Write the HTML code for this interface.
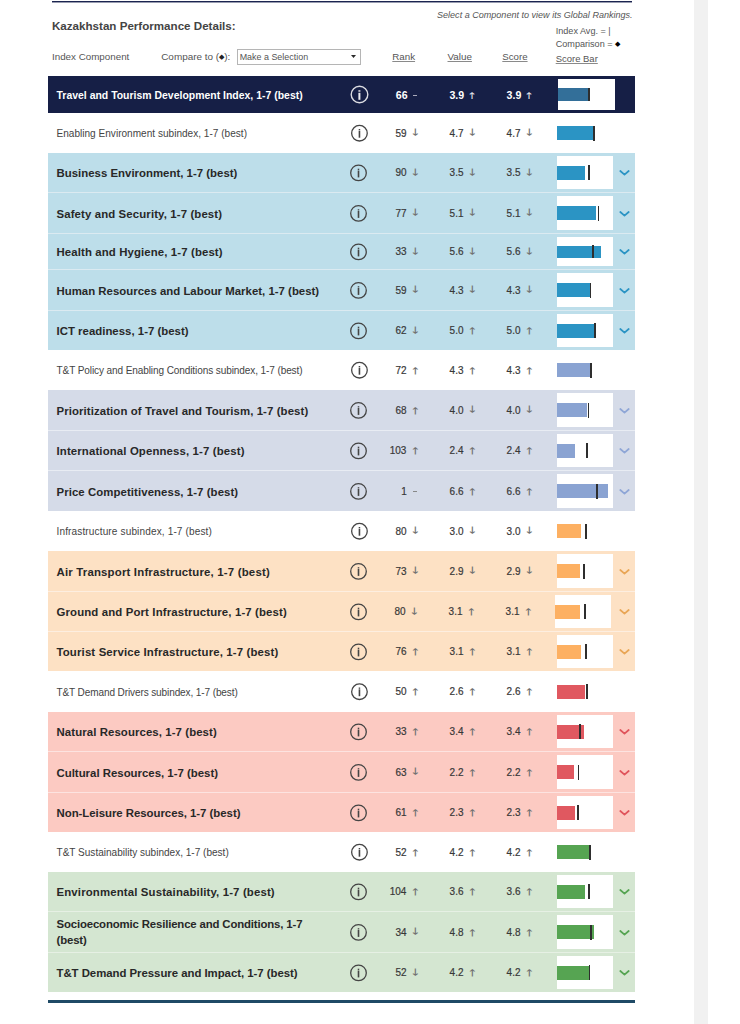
<!DOCTYPE html>
<html><head><meta charset="utf-8"><title>Kazakhstan Performance Details</title>
<style>
*{margin:0;padding:0;box-sizing:border-box}
html,body{width:740px;height:1024px;overflow:hidden;background:#fff}
body{position:relative;font-family:"Liberation Sans", Arial, sans-serif;color:#333}
.a{position:absolute}
.t{position:absolute;white-space:nowrap}
.row{position:absolute;left:48px;width:587px}
.lbl{position:absolute;left:8.5px;top:0;bottom:0;display:flex;align-items:center;white-space:nowrap}
.num{position:absolute;white-space:nowrap;font-size:10.4px;line-height:12px;font-weight:normal;color:#383838;-webkit-text-stroke:0.2px #383838;transform:scaleX(0.96);transform-origin:100% 50%}
.nh{font-size:10.6px;line-height:12px;font-weight:bold;color:#fff;-webkit-text-stroke:0;transform:none}
.arr{position:absolute;width:6px;text-align:center;font-family:"Noto Sans CJK JP","DejaVu Sans",sans-serif;font-weight:bold;font-size:8px;line-height:9px;color:#727272;transform:scaleX(1.4)}
.dash{position:absolute;width:4px;height:1.2px;background:#888}
.info{position:absolute;width:17px;height:17px}
.box{position:absolute;background:#fff}
.bar{position:absolute}
.tick{position:absolute;width:1.8px;background:#2e2e2e}
.chev{position:absolute;width:11px;height:7px}
u{text-decoration:underline;text-underline-offset:0.5px;text-decoration-color:#8a8a8a;text-decoration-thickness:1.2px}
</style></head><body>

<div class="a" style="left:52px;top:1px;width:579.5px;height:1px;background:#1b2450"></div>
<div class="a" style="left:52px;top:2px;width:579.5px;height:1px;background:#1b2450;opacity:0.45"></div>
<div class="a" style="left:694.2px;top:0;width:13.4px;height:1024px;background:#f1f1f1"></div>
<div class="t" style="left:52px;top:19px;font-size:11.6px;font-weight:bold;color:#444">Kazakhstan Performance Details:</div>
<div class="t" style="left:437px;top:10.1px;font-size:9.06px;font-style:italic;color:#555">Select a Component to view its Global Rankings.</div>
<div class="t" style="left:555.7px;top:25.4px;font-size:9.1px;color:#555;line-height:12.4px">Index Avg. = |<br>Comparison = <span style="font-size:7px;color:#000;position:relative;top:-0.5px">◆</span></div>
<div class="t" style="left:52px;top:51px;font-size:9.8px;color:#555">Index Component</div>
<div class="t" style="left:161.2px;top:51px;font-size:9.95px;color:#555">Compare to (<span style="font-size:6.5px;color:#222;position:relative;top:-1px">◆</span>):</div>
<div class="a" style="left:236.5px;top:49px;width:124.5px;height:15.5px;border:1px solid #b5b5b5;background:#fff"></div>
<div class="t" style="left:239.7px;top:52px;font-size:8.94px;color:#555">Make a Selection</div>
<svg class="a" style="left:350px;top:54px" width="7" height="5" viewBox="0 0 7 5"><polygon points="1,1 6,1 3.5,4" fill="#2a2a2a"/></svg>
<div class="t" style="left:392.3px;top:51px;font-size:9.76px;color:#555"><u>Rank</u></div>
<div class="t" style="left:447.5px;top:51px;font-size:9.86px;color:#555"><u>Value</u></div>
<div class="t" style="left:502.3px;top:51px;font-size:9.68px;color:#555"><u>Score</u></div>
<div class="t" style="left:555.7px;top:52.5px;font-size:9.47px;color:#555"><u>Score Bar</u></div>
<div class="row" style="top:76px;height:37px;background:#161f46">
<div class="lbl" style="font-size:10.45px;font-weight:bold;color:#fff;letter-spacing:0.009px;padding-top:2px"><span>Travel and Tourism Development Index, 1-7 (best)</span></div>
<div class="info" style="left:301.6px;top:9.4px;width:19px;height:19px"><svg width="19" height="19" viewBox="0 0 19 19"><circle cx="9.5" cy="9.5" r="8.3" fill="none" stroke="#dcdce2" stroke-width="1.4"/><rect x="8.4" y="5.1" width="2" height="1.7" fill="#c8c8d0"/><rect x="8.4" y="7.8" width="2" height="7" fill="#ececf0"/></svg></div>
<div class="num nh" style="right:227.4px;top:13.01px">66</div>
<div class="dash" style="left:365.2px;top:18.8px;background:#aab"></div>
<div class="num nh" style="right:170.8px;top:13.01px">3.9</div>
<div class="arr" style="left:420.1px;top:14.9px;color:#dcdce4;font-size:7.5px;">↑</div>
<div class="num nh" style="right:113.7px;top:13.01px">3.9</div>
<div class="arr" style="left:477.1px;top:14.9px;color:#dcdce4;font-size:7.5px;">↑</div>
<div class="box" style="left:509.6px;width:57.5px;top:2.8px;height:31.1px"></div>
<div class="bar" style="left:509.6px;width:30.7px;top:12.4px;height:12.2px;background:#336f99"></div>
<div class="tick" style="left:540.4px;top:11.9px;height:13.2px"></div>
</div>
<div class="row" style="top:113px;height:40px;background:#fff">
<div class="lbl" style="font-size:10.05px;font-weight:normal;color:#444;letter-spacing:0.015px;padding-top:1px"><span>Enabling Environment subindex, 1-7 (best)</span></div>
<div class="info" style="left:301px;top:10px;width:19px;height:19px"><svg width="19" height="19" viewBox="0 0 19 19"><circle cx="10.45" cy="10.20" r="7.8" fill="none" stroke="#444" stroke-width="1.3"/><rect x="9.70" y="6.00" width="1.5" height="1.3" fill="#444"/><rect x="9.65" y="7.80" width="1.6" height="6.9" fill="#444"/></svg></div>
<div class="num" style="right:228.4px;top:14.69px">59</div>
<div class="arr" style="left:362.9px;top:14.4px;">↓</div>
<div class="num" style="right:171.8px;top:14.69px">4.7</div>
<div class="arr" style="left:419.8px;top:14.4px;">↓</div>
<div class="num" style="right:114.7px;top:14.69px">4.7</div>
<div class="arr" style="left:476.8px;top:14.4px;">↓</div>
<div class="bar" style="left:509.0px;width:36.1px;top:13.0px;height:14px;background:#2b94c4"></div>
<div class="tick" style="left:545.0px;top:12.5px;height:15px"></div>
</div>
<div class="row" style="top:153px;height:39px;background:#bddeea">
<div class="lbl" style="font-size:11.4px;font-weight:bold;color:#282828;letter-spacing:0.016px;padding-top:1.5px"><span>Business Environment, 1-7 (best)</span></div>
<div class="info" style="left:301px;top:10px;width:19px;height:19px"><svg width="19" height="19" viewBox="0 0 19 19"><circle cx="9.50" cy="9.90" r="7.8" fill="none" stroke="#444" stroke-width="1.3"/><rect x="8.75" y="5.70" width="1.5" height="1.3" fill="#444"/><rect x="8.70" y="7.50" width="1.6" height="6.9" fill="#444"/></svg></div>
<div class="num" style="right:228.4px;top:14.19px">90</div>
<div class="arr" style="left:362.9px;top:13.9px;">↓</div>
<div class="num" style="right:171.8px;top:14.19px">3.5</div>
<div class="arr" style="left:419.8px;top:13.9px;">↓</div>
<div class="num" style="right:114.7px;top:14.19px">3.5</div>
<div class="arr" style="left:476.8px;top:13.9px;">↓</div>
<div class="box" style="left:509px;width:56.2px;top:3.2px;bottom:3.2px"></div>
<div class="bar" style="left:509.0px;width:27.9px;top:12.5px;height:14px;background:#2b94c4"></div>
<div class="tick" style="left:540.0px;top:12.0px;height:15px"></div>
<svg class="chev" style="left:571.0px;top:16.0px" viewBox="0 0 11 7"><polyline points="1.3,2 5.5,5.6 9.7,2" fill="none" stroke="#2b94c4" stroke-width="1.75" stroke-linecap="round" stroke-linejoin="round"/></svg>
</div>
<div class="row" style="top:193px;height:40px;background:#bddeea">
<div class="lbl" style="font-size:11.4px;font-weight:bold;color:#282828;letter-spacing:0.123px;padding-top:1.5px"><span>Safety and Security, 1-7 (best)</span></div>
<div class="info" style="left:301px;top:10px;width:19px;height:19px"><svg width="19" height="19" viewBox="0 0 19 19"><circle cx="9.50" cy="10.40" r="7.8" fill="none" stroke="#444" stroke-width="1.3"/><rect x="8.75" y="6.20" width="1.5" height="1.3" fill="#444"/><rect x="8.70" y="8.00" width="1.6" height="6.9" fill="#444"/></svg></div>
<div class="num" style="right:228.4px;top:14.69px">77</div>
<div class="arr" style="left:362.9px;top:14.4px;">↓</div>
<div class="num" style="right:171.8px;top:14.69px">5.1</div>
<div class="arr" style="left:419.8px;top:14.4px;">↓</div>
<div class="num" style="right:114.7px;top:14.69px">5.1</div>
<div class="arr" style="left:476.8px;top:14.4px;">↓</div>
<div class="box" style="left:509px;width:56.2px;top:3.2px;bottom:3.2px"></div>
<div class="bar" style="left:509.0px;width:39.0px;top:13.0px;height:14px;background:#2b94c4"></div>
<div class="tick" style="left:549.5px;top:12.5px;height:15px"></div>
<svg class="chev" style="left:571.0px;top:16.5px" viewBox="0 0 11 7"><polyline points="1.3,2 5.5,5.6 9.7,2" fill="none" stroke="#2b94c4" stroke-width="1.75" stroke-linecap="round" stroke-linejoin="round"/></svg>
</div>
<div class="a" style="left:48px;width:587px;top:192px;height:1.0px;background:#dbeaf1"></div>
<div class="row" style="top:234px;height:35px;background:#bddeea">
<div class="lbl" style="font-size:11.4px;font-weight:bold;color:#282828;letter-spacing:0.117px;padding-top:1.5px"><span>Health and Hygiene, 1-7 (best)</span></div>
<div class="info" style="left:301px;top:8px;width:19px;height:19px"><svg width="19" height="19" viewBox="0 0 19 19"><circle cx="9.50" cy="9.90" r="7.8" fill="none" stroke="#444" stroke-width="1.3"/><rect x="8.75" y="5.70" width="1.5" height="1.3" fill="#444"/><rect x="8.70" y="7.50" width="1.6" height="6.9" fill="#444"/></svg></div>
<div class="num" style="right:228.4px;top:12.19px">33</div>
<div class="arr" style="left:362.9px;top:11.9px;">↓</div>
<div class="num" style="right:171.8px;top:12.19px">5.6</div>
<div class="arr" style="left:419.8px;top:11.9px;">↓</div>
<div class="num" style="right:114.7px;top:12.19px">5.6</div>
<div class="arr" style="left:476.8px;top:11.9px;">↓</div>
<div class="box" style="left:509px;width:56.2px;top:3.2px;bottom:3.2px"></div>
<div class="bar" style="left:509.0px;width:43.6px;top:11.8px;height:12.2px;background:#2b94c4"></div>
<div class="tick" style="left:544.0px;top:11.3px;height:13.2px"></div>
<svg class="chev" style="left:571.0px;top:14.0px" viewBox="0 0 11 7"><polyline points="1.3,2 5.5,5.6 9.7,2" fill="none" stroke="#2b94c4" stroke-width="1.75" stroke-linecap="round" stroke-linejoin="round"/></svg>
</div>
<div class="a" style="left:48px;width:587px;top:233px;height:1.0px;background:#dbeaf1"></div>
<div class="row" style="top:270px;height:40px;background:#bddeea">
<div class="lbl" style="font-size:11.4px;font-weight:bold;color:#282828;letter-spacing:0.014px;padding-top:1.5px"><span>Human Resources and Labour Market, 1-7 (best)</span></div>
<div class="info" style="left:301px;top:10px;width:19px;height:19px"><svg width="19" height="19" viewBox="0 0 19 19"><circle cx="9.50" cy="10.40" r="7.8" fill="none" stroke="#444" stroke-width="1.3"/><rect x="8.75" y="6.20" width="1.5" height="1.3" fill="#444"/><rect x="8.70" y="8.00" width="1.6" height="6.9" fill="#444"/></svg></div>
<div class="num" style="right:228.4px;top:14.69px">59</div>
<div class="arr" style="left:362.9px;top:14.4px;">↓</div>
<div class="num" style="right:171.8px;top:14.69px">4.3</div>
<div class="arr" style="left:419.8px;top:14.4px;">↓</div>
<div class="num" style="right:114.7px;top:14.69px">4.3</div>
<div class="arr" style="left:476.8px;top:14.4px;">↓</div>
<div class="box" style="left:509px;width:56.2px;top:3.2px;bottom:3.2px"></div>
<div class="bar" style="left:509.0px;width:32.9px;top:13.0px;height:14px;background:#2b94c4"></div>
<div class="tick" style="left:541.5px;top:12.5px;height:15px"></div>
<svg class="chev" style="left:571.0px;top:16.5px" viewBox="0 0 11 7"><polyline points="1.3,2 5.5,5.6 9.7,2" fill="none" stroke="#2b94c4" stroke-width="1.75" stroke-linecap="round" stroke-linejoin="round"/></svg>
</div>
<div class="a" style="left:48px;width:587px;top:269px;height:1.0px;background:#dbeaf1"></div>
<div class="row" style="top:311px;height:39px;background:#bddeea">
<div class="lbl" style="font-size:11.4px;font-weight:bold;color:#282828;letter-spacing:0.017px;padding-top:1.5px"><span>ICT readiness, 1-7 (best)</span></div>
<div class="info" style="left:301px;top:10px;width:19px;height:19px"><svg width="19" height="19" viewBox="0 0 19 19"><circle cx="9.50" cy="9.90" r="7.8" fill="none" stroke="#444" stroke-width="1.3"/><rect x="8.75" y="5.70" width="1.5" height="1.3" fill="#444"/><rect x="8.70" y="7.50" width="1.6" height="6.9" fill="#444"/></svg></div>
<div class="num" style="right:228.4px;top:14.19px">62</div>
<div class="arr" style="left:362.9px;top:13.9px;">↓</div>
<div class="num" style="right:171.8px;top:14.19px">5.0</div>
<div class="arr" style="left:419.8px;top:15.3px;">↑</div>
<div class="num" style="right:114.7px;top:14.19px">5.0</div>
<div class="arr" style="left:476.8px;top:15.3px;">↑</div>
<div class="box" style="left:509px;width:56.2px;top:3.2px;bottom:3.2px"></div>
<div class="bar" style="left:509.0px;width:37.6px;top:12.5px;height:14px;background:#2b94c4"></div>
<div class="tick" style="left:546.3px;top:12.0px;height:15px"></div>
<svg class="chev" style="left:571.0px;top:16.0px" viewBox="0 0 11 7"><polyline points="1.3,2 5.5,5.6 9.7,2" fill="none" stroke="#2b94c4" stroke-width="1.75" stroke-linecap="round" stroke-linejoin="round"/></svg>
</div>
<div class="a" style="left:48px;width:587px;top:310px;height:1.0px;background:#dbeaf1"></div>
<div class="row" style="top:350px;height:40px;background:#fff">
<div class="lbl" style="font-size:10.05px;font-weight:normal;color:#444;letter-spacing:-0.104px;padding-top:1px"><span>T&amp;T Policy and Enabling Conditions subindex, 1-7 (best)</span></div>
<div class="info" style="left:301px;top:10px;width:19px;height:19px"><svg width="19" height="19" viewBox="0 0 19 19"><circle cx="10.45" cy="10.20" r="7.8" fill="none" stroke="#444" stroke-width="1.3"/><rect x="9.70" y="6.00" width="1.5" height="1.3" fill="#444"/><rect x="9.65" y="7.80" width="1.6" height="6.9" fill="#444"/></svg></div>
<div class="num" style="right:228.4px;top:14.69px">72</div>
<div class="arr" style="left:362.9px;top:15.8px;">↑</div>
<div class="num" style="right:171.8px;top:14.69px">4.3</div>
<div class="arr" style="left:419.8px;top:15.8px;">↑</div>
<div class="num" style="right:114.7px;top:14.69px">4.3</div>
<div class="arr" style="left:476.8px;top:15.8px;">↑</div>
<div class="bar" style="left:509.0px;width:33.7px;top:13.0px;height:14px;background:#8aa3d2"></div>
<div class="tick" style="left:542.3px;top:12.5px;height:15px"></div>
</div>
<div class="row" style="top:390px;height:40px;background:#d5dbe8">
<div class="lbl" style="font-size:11.4px;font-weight:bold;color:#282828;letter-spacing:0.094px;padding-top:1.5px"><span>Prioritization of Travel and Tourism, 1-7 (best)</span></div>
<div class="info" style="left:301px;top:10px;width:19px;height:19px"><svg width="19" height="19" viewBox="0 0 19 19"><circle cx="9.50" cy="10.40" r="7.8" fill="none" stroke="#444" stroke-width="1.3"/><rect x="8.75" y="6.20" width="1.5" height="1.3" fill="#444"/><rect x="8.70" y="8.00" width="1.6" height="6.9" fill="#444"/></svg></div>
<div class="num" style="right:228.4px;top:14.69px">68</div>
<div class="arr" style="left:362.9px;top:15.8px;">↑</div>
<div class="num" style="right:171.8px;top:14.69px">4.0</div>
<div class="arr" style="left:419.8px;top:14.4px;">↓</div>
<div class="num" style="right:114.7px;top:14.69px">4.0</div>
<div class="arr" style="left:476.8px;top:14.4px;">↓</div>
<div class="box" style="left:509px;width:56.2px;top:3.2px;bottom:3.2px"></div>
<div class="bar" style="left:509.0px;width:29.8px;top:13.0px;height:14px;background:#8aa3d2"></div>
<div class="tick" style="left:539.5px;top:12.5px;height:15px"></div>
<svg class="chev" style="left:571.0px;top:16.5px" viewBox="0 0 11 7"><polyline points="1.3,2 5.5,5.6 9.7,2" fill="none" stroke="#8fa6d6" stroke-width="1.75" stroke-linecap="round" stroke-linejoin="round"/></svg>
</div>
<div class="row" style="top:431px;height:39px;background:#d5dbe8">
<div class="lbl" style="font-size:11.4px;font-weight:bold;color:#282828;letter-spacing:0.133px;padding-top:1.5px"><span>International Openness, 1-7 (best)</span></div>
<div class="info" style="left:301px;top:10px;width:19px;height:19px"><svg width="19" height="19" viewBox="0 0 19 19"><circle cx="9.50" cy="9.90" r="7.8" fill="none" stroke="#444" stroke-width="1.3"/><rect x="8.75" y="5.70" width="1.5" height="1.3" fill="#444"/><rect x="8.70" y="7.50" width="1.6" height="6.9" fill="#444"/></svg></div>
<div class="num" style="right:228.4px;top:14.19px">103</div>
<div class="arr" style="left:362.9px;top:15.3px;">↑</div>
<div class="num" style="right:171.8px;top:14.19px">2.4</div>
<div class="arr" style="left:419.8px;top:15.3px;">↑</div>
<div class="num" style="right:114.7px;top:14.19px">2.4</div>
<div class="arr" style="left:476.8px;top:15.3px;">↑</div>
<div class="box" style="left:509px;width:56.2px;top:3.2px;bottom:3.2px"></div>
<div class="bar" style="left:509.0px;width:17.9px;top:12.5px;height:14px;background:#8aa3d2"></div>
<div class="tick" style="left:537.8px;top:12.0px;height:15px"></div>
<svg class="chev" style="left:571.0px;top:16.0px" viewBox="0 0 11 7"><polyline points="1.3,2 5.5,5.6 9.7,2" fill="none" stroke="#8fa6d6" stroke-width="1.75" stroke-linecap="round" stroke-linejoin="round"/></svg>
</div>
<div class="a" style="left:48px;width:587px;top:430px;height:1.0px;background:#e8ecf3"></div>
<div class="row" style="top:471px;height:40px;background:#d5dbe8">
<div class="lbl" style="font-size:11.4px;font-weight:bold;color:#282828;letter-spacing:0.078px;padding-top:1.5px"><span>Price Competitiveness, 1-7 (best)</span></div>
<div class="info" style="left:301px;top:10px;width:19px;height:19px"><svg width="19" height="19" viewBox="0 0 19 19"><circle cx="9.50" cy="10.40" r="7.8" fill="none" stroke="#444" stroke-width="1.3"/><rect x="8.75" y="6.20" width="1.5" height="1.3" fill="#444"/><rect x="8.70" y="8.00" width="1.6" height="6.9" fill="#444"/></svg></div>
<div class="num" style="right:228.4px;top:14.69px">1</div>
<div class="dash" style="left:365.2px;top:20.3px;"></div>
<div class="num" style="right:171.8px;top:14.69px">6.6</div>
<div class="arr" style="left:419.8px;top:15.8px;">↑</div>
<div class="num" style="right:114.7px;top:14.69px">6.6</div>
<div class="arr" style="left:476.8px;top:15.8px;">↑</div>
<div class="box" style="left:509px;width:56.2px;top:3.2px;bottom:3.2px"></div>
<div class="bar" style="left:509.0px;width:51.4px;top:13.0px;height:14px;background:#8aa3d2"></div>
<div class="tick" style="left:548.0px;top:12.5px;height:15px"></div>
<svg class="chev" style="left:571.0px;top:16.5px" viewBox="0 0 11 7"><polyline points="1.3,2 5.5,5.6 9.7,2" fill="none" stroke="#8fa6d6" stroke-width="1.75" stroke-linecap="round" stroke-linejoin="round"/></svg>
</div>
<div class="a" style="left:48px;width:587px;top:470px;height:1.0px;background:#e8ecf3"></div>
<div class="row" style="top:511px;height:40px;background:#fff">
<div class="lbl" style="font-size:10.05px;font-weight:normal;color:#444;letter-spacing:0.135px;padding-top:1px"><span>Infrastructure subindex, 1-7 (best)</span></div>
<div class="info" style="left:301px;top:10px;width:19px;height:19px"><svg width="19" height="19" viewBox="0 0 19 19"><circle cx="10.45" cy="10.20" r="7.8" fill="none" stroke="#444" stroke-width="1.3"/><rect x="9.70" y="6.00" width="1.5" height="1.3" fill="#444"/><rect x="9.65" y="7.80" width="1.6" height="6.9" fill="#444"/></svg></div>
<div class="num" style="right:228.4px;top:14.69px">80</div>
<div class="arr" style="left:362.9px;top:14.4px;">↓</div>
<div class="num" style="right:171.8px;top:14.69px">3.0</div>
<div class="arr" style="left:419.8px;top:14.4px;">↓</div>
<div class="num" style="right:114.7px;top:14.69px">3.0</div>
<div class="arr" style="left:476.8px;top:14.4px;">↓</div>
<div class="bar" style="left:509.0px;width:23.8px;top:13.0px;height:14px;background:#fdb062"></div>
<div class="tick" style="left:536.8px;top:12.5px;height:15px"></div>
</div>
<div class="row" style="top:551px;height:40px;background:#fde1c4">
<div class="lbl" style="font-size:11.4px;font-weight:bold;color:#282828;letter-spacing:0.192px;padding-top:1.5px"><span>Air Transport Infrastructure, 1-7 (best)</span></div>
<div class="info" style="left:301px;top:10px;width:19px;height:19px"><svg width="19" height="19" viewBox="0 0 19 19"><circle cx="9.50" cy="10.40" r="7.8" fill="none" stroke="#444" stroke-width="1.3"/><rect x="8.75" y="6.20" width="1.5" height="1.3" fill="#444"/><rect x="8.70" y="8.00" width="1.6" height="6.9" fill="#444"/></svg></div>
<div class="num" style="right:228.4px;top:14.69px">73</div>
<div class="arr" style="left:362.9px;top:14.4px;">↓</div>
<div class="num" style="right:171.8px;top:14.69px">2.9</div>
<div class="arr" style="left:419.8px;top:14.4px;">↓</div>
<div class="num" style="right:114.7px;top:14.69px">2.9</div>
<div class="arr" style="left:476.8px;top:14.4px;">↓</div>
<div class="box" style="left:509px;width:56.2px;top:3.2px;bottom:3.2px"></div>
<div class="bar" style="left:509.0px;width:23.0px;top:13.0px;height:14px;background:#fdb062"></div>
<div class="tick" style="left:535.3px;top:12.5px;height:15px"></div>
<svg class="chev" style="left:571.0px;top:16.5px" viewBox="0 0 11 7"><polyline points="1.3,2 5.5,5.6 9.7,2" fill="none" stroke="#e9a656" stroke-width="1.75" stroke-linecap="round" stroke-linejoin="round"/></svg>
</div>
<div class="row" style="top:592px;height:39px;background:#fde1c4">
<div class="lbl" style="font-size:11.4px;font-weight:bold;color:#282828;letter-spacing:0.137px;padding-top:1.5px"><span>Ground and Port Infrastructure, 1-7 (best)</span></div>
<div class="info" style="left:301px;top:10px;width:19px;height:19px"><svg width="19" height="19" viewBox="0 0 19 19"><circle cx="9.50" cy="9.90" r="7.8" fill="none" stroke="#444" stroke-width="1.3"/><rect x="8.75" y="5.70" width="1.5" height="1.3" fill="#444"/><rect x="8.70" y="7.50" width="1.6" height="6.9" fill="#444"/></svg></div>
<div class="num" style="right:229.4px;top:14.19px">80</div>
<div class="arr" style="left:361.9px;top:13.9px;">↓</div>
<div class="num" style="right:172.8px;top:14.19px">3.1</div>
<div class="arr" style="left:418.8px;top:15.3px;">↑</div>
<div class="num" style="right:115.7px;top:14.19px">3.1</div>
<div class="arr" style="left:475.8px;top:15.3px;">↑</div>
<div class="box" style="left:507.29999999999995px;width:56.2px;top:3.2px;bottom:3.2px"></div>
<div class="bar" style="left:507.3px;width:24.8px;top:12.5px;height:14px;background:#fdb062"></div>
<div class="tick" style="left:536.2px;top:12.0px;height:15px"></div>
<svg class="chev" style="left:571.0px;top:16.0px" viewBox="0 0 11 7"><polyline points="1.3,2 5.5,5.6 9.7,2" fill="none" stroke="#e9a656" stroke-width="1.75" stroke-linecap="round" stroke-linejoin="round"/></svg>
</div>
<div class="a" style="left:48px;width:587px;top:591px;height:1.0px;background:#fdeee0"></div>
<div class="row" style="top:632px;height:39px;background:#fde1c4">
<div class="lbl" style="font-size:11.4px;font-weight:bold;color:#282828;letter-spacing:0.151px;padding-top:1.5px"><span>Tourist Service Infrastructure, 1-7 (best)</span></div>
<div class="info" style="left:301px;top:10px;width:19px;height:19px"><svg width="19" height="19" viewBox="0 0 19 19"><circle cx="9.50" cy="9.90" r="7.8" fill="none" stroke="#444" stroke-width="1.3"/><rect x="8.75" y="5.70" width="1.5" height="1.3" fill="#444"/><rect x="8.70" y="7.50" width="1.6" height="6.9" fill="#444"/></svg></div>
<div class="num" style="right:228.4px;top:14.19px">76</div>
<div class="arr" style="left:362.9px;top:15.3px;">↑</div>
<div class="num" style="right:171.8px;top:14.19px">3.1</div>
<div class="arr" style="left:419.8px;top:15.3px;">↑</div>
<div class="num" style="right:114.7px;top:14.19px">3.1</div>
<div class="arr" style="left:476.8px;top:15.3px;">↑</div>
<div class="box" style="left:509px;width:56.2px;top:3.2px;bottom:3.2px"></div>
<div class="bar" style="left:509.0px;width:23.8px;top:12.5px;height:14px;background:#fdb062"></div>
<div class="tick" style="left:536.9px;top:12.0px;height:15px"></div>
<svg class="chev" style="left:571.0px;top:16.0px" viewBox="0 0 11 7"><polyline points="1.3,2 5.5,5.6 9.7,2" fill="none" stroke="#e9a656" stroke-width="1.75" stroke-linecap="round" stroke-linejoin="round"/></svg>
</div>
<div class="a" style="left:48px;width:587px;top:631px;height:1.0px;background:#fdeee0"></div>
<div class="row" style="top:671px;height:41px;background:#fff">
<div class="lbl" style="font-size:10.05px;font-weight:normal;color:#444;letter-spacing:-0.118px;padding-top:1px"><span>T&amp;T Demand Drivers subindex, 1-7 (best)</span></div>
<div class="info" style="left:301px;top:11px;width:19px;height:19px"><svg width="19" height="19" viewBox="0 0 19 19"><circle cx="10.45" cy="9.70" r="7.8" fill="none" stroke="#444" stroke-width="1.3"/><rect x="9.70" y="5.50" width="1.5" height="1.3" fill="#444"/><rect x="9.65" y="7.30" width="1.6" height="6.9" fill="#444"/></svg></div>
<div class="num" style="right:228.4px;top:15.19px">50</div>
<div class="arr" style="left:362.9px;top:16.3px;">↑</div>
<div class="num" style="right:171.8px;top:15.19px">2.6</div>
<div class="arr" style="left:419.8px;top:16.3px;">↑</div>
<div class="num" style="right:114.7px;top:15.19px">2.6</div>
<div class="arr" style="left:476.8px;top:16.3px;">↑</div>
<div class="bar" style="left:509.0px;width:27.8px;top:13.5px;height:14px;background:#e05860"></div>
<div class="tick" style="left:537.8px;top:13.0px;height:15px"></div>
</div>
<div class="row" style="top:712px;height:39px;background:#fccac2">
<div class="lbl" style="font-size:11.4px;font-weight:bold;color:#282828;letter-spacing:0.093px;padding-top:1.5px"><span>Natural Resources, 1-7 (best)</span></div>
<div class="info" style="left:301px;top:10px;width:19px;height:19px"><svg width="19" height="19" viewBox="0 0 19 19"><circle cx="9.50" cy="9.90" r="7.8" fill="none" stroke="#444" stroke-width="1.3"/><rect x="8.75" y="5.70" width="1.5" height="1.3" fill="#444"/><rect x="8.70" y="7.50" width="1.6" height="6.9" fill="#444"/></svg></div>
<div class="num" style="right:228.4px;top:14.19px">33</div>
<div class="arr" style="left:362.9px;top:15.3px;">↑</div>
<div class="num" style="right:171.8px;top:14.19px">3.4</div>
<div class="arr" style="left:419.8px;top:15.3px;">↑</div>
<div class="num" style="right:114.7px;top:14.19px">3.4</div>
<div class="arr" style="left:476.8px;top:15.3px;">↑</div>
<div class="box" style="left:509px;width:56.2px;top:3.2px;bottom:3.2px"></div>
<div class="bar" style="left:509.0px;width:27.0px;top:12.5px;height:14px;background:#e05860"></div>
<div class="tick" style="left:531.4px;top:12.0px;height:15px"></div>
<svg class="chev" style="left:571.0px;top:16.0px" viewBox="0 0 11 7"><polyline points="1.3,2 5.5,5.6 9.7,2" fill="none" stroke="#e0555c" stroke-width="1.75" stroke-linecap="round" stroke-linejoin="round"/></svg>
</div>
<div class="row" style="top:752px;height:40px;background:#fccac2">
<div class="lbl" style="font-size:11.4px;font-weight:bold;color:#282828;letter-spacing:0.003px;padding-top:1.5px"><span>Cultural Resources, 1-7 (best)</span></div>
<div class="info" style="left:301px;top:10px;width:19px;height:19px"><svg width="19" height="19" viewBox="0 0 19 19"><circle cx="9.50" cy="10.40" r="7.8" fill="none" stroke="#444" stroke-width="1.3"/><rect x="8.75" y="6.20" width="1.5" height="1.3" fill="#444"/><rect x="8.70" y="8.00" width="1.6" height="6.9" fill="#444"/></svg></div>
<div class="num" style="right:228.4px;top:14.69px">63</div>
<div class="arr" style="left:362.9px;top:14.4px;">↓</div>
<div class="num" style="right:171.8px;top:14.69px">2.2</div>
<div class="arr" style="left:419.8px;top:15.8px;">↑</div>
<div class="num" style="right:114.7px;top:14.69px">2.2</div>
<div class="arr" style="left:476.8px;top:15.8px;">↑</div>
<div class="box" style="left:509px;width:56.2px;top:3.2px;bottom:3.2px"></div>
<div class="bar" style="left:509.0px;width:17.4px;top:13.0px;height:14px;background:#e05860"></div>
<div class="tick" style="left:529.6px;top:12.5px;height:15px"></div>
<svg class="chev" style="left:571.0px;top:16.5px" viewBox="0 0 11 7"><polyline points="1.3,2 5.5,5.6 9.7,2" fill="none" stroke="#e0555c" stroke-width="1.75" stroke-linecap="round" stroke-linejoin="round"/></svg>
</div>
<div class="a" style="left:48px;width:587px;top:751px;height:1.0px;background:#fde3e0"></div>
<div class="row" style="top:793px;height:39px;background:#fccac2">
<div class="lbl" style="font-size:11.4px;font-weight:bold;color:#282828;letter-spacing:-0.028px;padding-top:1.5px"><span>Non-Leisure Resources, 1-7 (best)</span></div>
<div class="info" style="left:301px;top:10px;width:19px;height:19px"><svg width="19" height="19" viewBox="0 0 19 19"><circle cx="9.50" cy="9.90" r="7.8" fill="none" stroke="#444" stroke-width="1.3"/><rect x="8.75" y="5.70" width="1.5" height="1.3" fill="#444"/><rect x="8.70" y="7.50" width="1.6" height="6.9" fill="#444"/></svg></div>
<div class="num" style="right:228.4px;top:14.19px">61</div>
<div class="arr" style="left:362.9px;top:15.3px;">↑</div>
<div class="num" style="right:171.8px;top:14.19px">2.3</div>
<div class="arr" style="left:419.8px;top:15.3px;">↑</div>
<div class="num" style="right:114.7px;top:14.19px">2.3</div>
<div class="arr" style="left:476.8px;top:15.3px;">↑</div>
<div class="box" style="left:509px;width:56.2px;top:3.2px;bottom:3.2px"></div>
<div class="bar" style="left:509.0px;width:18.0px;top:12.5px;height:14px;background:#e05860"></div>
<div class="tick" style="left:529.1px;top:12.0px;height:15px"></div>
<svg class="chev" style="left:571.0px;top:16.0px" viewBox="0 0 11 7"><polyline points="1.3,2 5.5,5.6 9.7,2" fill="none" stroke="#e0555c" stroke-width="1.75" stroke-linecap="round" stroke-linejoin="round"/></svg>
</div>
<div class="a" style="left:48px;width:587px;top:792px;height:1.0px;background:#fde3e0"></div>
<div class="row" style="top:832px;height:40px;background:#fff">
<div class="lbl" style="font-size:10.05px;font-weight:normal;color:#444;letter-spacing:-0.003px;padding-top:1px"><span>T&amp;T Sustainability subindex, 1-7 (best)</span></div>
<div class="info" style="left:301px;top:10px;width:19px;height:19px"><svg width="19" height="19" viewBox="0 0 19 19"><circle cx="10.45" cy="10.20" r="7.8" fill="none" stroke="#444" stroke-width="1.3"/><rect x="9.70" y="6.00" width="1.5" height="1.3" fill="#444"/><rect x="9.65" y="7.80" width="1.6" height="6.9" fill="#444"/></svg></div>
<div class="num" style="right:228.4px;top:14.69px">52</div>
<div class="arr" style="left:362.9px;top:15.8px;">↑</div>
<div class="num" style="right:171.8px;top:14.69px">4.2</div>
<div class="arr" style="left:419.8px;top:15.8px;">↑</div>
<div class="num" style="right:114.7px;top:14.69px">4.2</div>
<div class="arr" style="left:476.8px;top:15.8px;">↑</div>
<div class="bar" style="left:509.0px;width:32.4px;top:13.0px;height:14px;background:#56a452"></div>
<div class="tick" style="left:540.9px;top:12.5px;height:15px"></div>
</div>
<div class="row" style="top:872px;height:39px;background:#d4e6d1">
<div class="lbl" style="font-size:11.4px;font-weight:bold;color:#282828;letter-spacing:0.146px;padding-top:1.5px"><span>Environmental Sustainability, 1-7 (best)</span></div>
<div class="info" style="left:301px;top:10px;width:19px;height:19px"><svg width="19" height="19" viewBox="0 0 19 19"><circle cx="9.50" cy="9.90" r="7.8" fill="none" stroke="#444" stroke-width="1.3"/><rect x="8.75" y="5.70" width="1.5" height="1.3" fill="#444"/><rect x="8.70" y="7.50" width="1.6" height="6.9" fill="#444"/></svg></div>
<div class="num" style="right:228.4px;top:14.19px">104</div>
<div class="arr" style="left:362.9px;top:15.3px;">↑</div>
<div class="num" style="right:171.8px;top:14.19px">3.6</div>
<div class="arr" style="left:419.8px;top:15.3px;">↑</div>
<div class="num" style="right:114.7px;top:14.19px">3.6</div>
<div class="arr" style="left:476.8px;top:15.3px;">↑</div>
<div class="box" style="left:509px;width:56.2px;top:3.2px;bottom:3.2px"></div>
<div class="bar" style="left:509.0px;width:27.7px;top:12.5px;height:14px;background:#56a452"></div>
<div class="tick" style="left:540.2px;top:12.0px;height:15px"></div>
<svg class="chev" style="left:571.0px;top:16.0px" viewBox="0 0 11 7"><polyline points="1.3,2 5.5,5.6 9.7,2" fill="none" stroke="#56a452" stroke-width="1.75" stroke-linecap="round" stroke-linejoin="round"/></svg>
</div>
<div class="row" style="top:912px;height:40px;background:#d4e6d1">
<div class="lbl" style="font-size:11.4px;font-weight:bold;color:#282828;line-height:15.6px;letter-spacing:-0.153px;padding-top:1.5px"><span>Socioeconomic Resilience and Conditions, 1-7<br>(best)</span></div>
<div class="info" style="left:301px;top:10px;width:19px;height:19px"><svg width="19" height="19" viewBox="0 0 19 19"><circle cx="9.50" cy="10.40" r="7.8" fill="none" stroke="#444" stroke-width="1.3"/><rect x="8.75" y="6.20" width="1.5" height="1.3" fill="#444"/><rect x="8.70" y="8.00" width="1.6" height="6.9" fill="#444"/></svg></div>
<div class="num" style="right:228.4px;top:14.69px">34</div>
<div class="arr" style="left:362.9px;top:14.4px;">↓</div>
<div class="num" style="right:171.8px;top:14.69px">4.8</div>
<div class="arr" style="left:419.8px;top:15.8px;">↑</div>
<div class="num" style="right:114.7px;top:14.69px">4.8</div>
<div class="arr" style="left:476.8px;top:15.8px;">↑</div>
<div class="box" style="left:509px;width:56.2px;top:3.2px;bottom:3.2px"></div>
<div class="bar" style="left:509.0px;width:37.0px;top:13.0px;height:14px;background:#56a452"></div>
<div class="tick" style="left:541.8px;top:12.5px;height:15px"></div>
<svg class="chev" style="left:571.0px;top:16.5px" viewBox="0 0 11 7"><polyline points="1.3,2 5.5,5.6 9.7,2" fill="none" stroke="#56a452" stroke-width="1.75" stroke-linecap="round" stroke-linejoin="round"/></svg>
</div>
<div class="a" style="left:48px;width:587px;top:911px;height:1.0px;background:#e6f0e4"></div>
<div class="row" style="top:953px;height:39px;background:#d4e6d1">
<div class="lbl" style="font-size:11.4px;font-weight:bold;color:#282828;letter-spacing:-0.034px;padding-top:1.5px"><span>T&amp;T Demand Pressure and Impact, 1-7 (best)</span></div>
<div class="info" style="left:301px;top:10px;width:19px;height:19px"><svg width="19" height="19" viewBox="0 0 19 19"><circle cx="9.50" cy="9.90" r="7.8" fill="none" stroke="#444" stroke-width="1.3"/><rect x="8.75" y="5.70" width="1.5" height="1.3" fill="#444"/><rect x="8.70" y="7.50" width="1.6" height="6.9" fill="#444"/></svg></div>
<div class="num" style="right:228.4px;top:14.19px">52</div>
<div class="arr" style="left:362.9px;top:13.9px;">↓</div>
<div class="num" style="right:171.8px;top:14.19px">4.2</div>
<div class="arr" style="left:419.8px;top:15.3px;">↑</div>
<div class="num" style="right:114.7px;top:14.19px">4.2</div>
<div class="arr" style="left:476.8px;top:15.3px;">↑</div>
<div class="box" style="left:509px;width:56.2px;top:3.2px;bottom:3.2px"></div>
<div class="bar" style="left:509.0px;width:32.0px;top:12.5px;height:14px;background:#56a452"></div>
<div class="tick" style="left:540.5px;top:12.0px;height:15px"></div>
<svg class="chev" style="left:571.0px;top:16.0px" viewBox="0 0 11 7"><polyline points="1.3,2 5.5,5.6 9.7,2" fill="none" stroke="#56a452" stroke-width="1.75" stroke-linecap="round" stroke-linejoin="round"/></svg>
</div>
<div class="a" style="left:48px;width:587px;top:952px;height:1.0px;background:#e6f0e4"></div>
<div class="a" style="left:48px;top:1000px;width:587px;height:3px;background:#1f4a66"></div>
</body></html>
